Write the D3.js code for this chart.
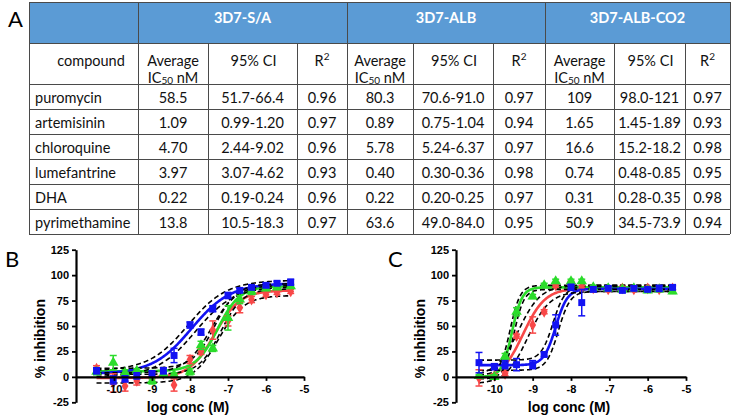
<!DOCTYPE html>
<html><head><meta charset="utf-8">
<script src="https://cdn.jsdelivr.net/npm/d3@7"></script>
<style>body{margin:0;background:#fff}svg{display:block}</style>
</head><body><svg id="c" width="733" height="416"></svg>
<script>
// ---------------- Table data ----------------
const strains = ["3D7-S/A", "3D7-ALB", "3D7-ALB-CO2"];
const compounds = ["puromycin", "artemisinin", "chloroquine", "lumefantrine", "DHA", "pyrimethamine"];
const ic50_SA  = ["58.5", "1.09", "4.70", "3.97", "0.22", "13.8"];
const ci_SA    = ["51.7-66.4", "0.99-1.20", "2.44-9.02", "3.07-4.62", "0.19-0.24", "10.5-18.3"];
const r2_SA    = ["0.96", "0.97", "0.96", "0.93", "0.96", "0.97"];
const ic50_ALB = ["80.3", "0.89", "5.78", "0.40", "0.22", "63.6"];
const ci_ALB   = ["70.6-91.0", "0.75-1.04", "5.24-6.37", "0.30-0.36", "0.20-0.25", "49.0-84.0"];
const r2_ALB   = ["0.97", "0.94", "0.97", "0.98", "0.97", "0.95"];
const ic50_CO2 = ["109", "1.65", "16.6", "0.74", "0.31", "50.9"];
const ci_CO2   = ["98.0-121", "1.45-1.89", "15.2-18.2", "0.48-0.85", "0.28-0.35", "34.5-73.9"];
const r2_CO2   = ["0.97", "0.93", "0.98", "0.95", "0.98", "0.94"];

// ---------------- Plot data (log conc M, % inhibition, error) ----------------
const xTicks = [-10, -9, -8, -7, -6, -5];
const yTicks = [-25, 0, 25, 50, 75, 100, 125];

const B_conc = [-10.46, -10.02, -9.71, -9.40, -9.0, -8.7, -8.42, -8.0, -7.71, -7.40, -7.0, -6.69, -6.38, -6.0, -5.71, -5.35];
const B_blue  = [6, -3, -2, 1, 3, 6, 21, 51, 44, 67, 80, 85, 88, 90, 92, 93];
const B_blueE = [3, 4, 3, 3, 3, 3, 7, 3, 3, 3, 3, 2, 2, 2, 2, 3];
const B_green  = [5, 14, 4, 6, -4, 3, 2, 5, 31, 28, 58, 76, 84, 87, 88, 89];
const B_greenE = [3, 7, 3, 2, 3, 2, 2, 3, 4, 3, 12, 4, 3, 2, 2, 2];
const B_red  = [8, -6, -9, -4, 1, 3, -8, 17, 25, 46, 55, 68, 76, 81, 83, 84];
const B_redE = [3, 9, 5, 4, 3, 3, 6, 4, 3, 9, 5, 5, 3, 2, 2, 2];

const C_conc = [-10.4, -10.0, -9.72, -9.42, -9.0, -8.7, -8.4, -8.0, -7.72, -7.42, -7.03, -6.66, -6.36, -6.0, -5.7, -5.35];
const C_blue  = [14, 10, 12, 12, 12, 22, 51, 88, 73, 86, 87, 85, 87, 86, 87, 88];
const C_blueE = [10, 3, 4, 6, 4, 2, 10, 3, 13, 2, 2, 2, 2, 2, 3, 2];
const C_green  = [1, 0, 20, 64, 79, 90, 94, 94, 94, 88, 87, 86, 87, 85, 86, 84];
const C_greenE = [1, 2, 3, 4, 2, 2, 2, 2, 2, 2, 2, 2, 2, 2, 2, 2];
const C_red  = [-1, 1, 3, 40, 51, 64, 90, 92, 88, 87, 86, 87, 86, 87, 86, 87];
const C_redE = [8, 2, 2, 2, 8, 2, 2, 2, 2, 2, 2, 2, 2, 2, 2, 2];

// fitted 4PL curves: [bottom, top, logIC50, hill]
const B_blueFit  = [3, 92, -7.96, 0.85];
const B_greenFit = [5.5, 89, -7.27, 1.5];
const B_redFit   = [-1, 85, -7.35, 1.3];
const C_blueFit  = [11.5, 86.5, -8.40, 2.8];
const C_greenFit = [0, 88, -9.54, 3.3];
const C_redFit   = [-3, 87, -9.25, 1.5];
// 95% confidence band half-widths: [dBottom, dTop, dLogIC50]
const B_blueBand  = [3, 3, 0.10];
const B_greenBand = [3, 2.5, 0.08];
const B_redBand   = [5, 5, 0.10];
const C_blueBand  = [5, 2.5, 0.07];
const C_greenBand = [2, 2, 0.05];
const C_redBand   = [4, 3, 0.12];

const colors = {blue: "#1212f2", green: "#2bdc2b", red: "#f84848"};

const svg = d3.select("#c");

// ---------------- Table ----------------
const colX = [29, 138, 208, 297, 347, 413, 493, 545, 614, 685, 730];
const rowY = [2, 43, 84, 109, 134, 159, 184, 209, 234];
const tfont = "Lato, 'Open Sans', sans-serif";
const tsize = 14.5;
const lineCol = "#4a4a4a";

svg.append("text").attr("x", 8).attr("y", 18).attr("dominant-baseline", "central")
  .attr("font-family", tfont).attr("font-size", 22).text("A");

svg.append("rect").attr("x", colX[0]).attr("y", rowY[0]).attr("width", colX[10] - colX[0])
  .attr("height", rowY[1] - rowY[0]).attr("fill", "#5b9bd5");

const groups = [[colX[1], colX[4]], [colX[4], colX[7]], [colX[7], colX[10]]];
svg.selectAll("text.strain").data(strains).enter().append("text")
  .attr("class", "strain")
  .attr("x", (d, i) => (groups[i][0] + groups[i][1]) / 2)
  .attr("y", 17).attr("dominant-baseline", "central").attr("text-anchor", "middle")
  .attr("font-family", tfont).attr("font-weight", "bold").attr("font-size", tsize)
  .attr("fill", "#fff").text(d => d);

function cell(x, y, txt, anchor) {
  return svg.append("text").attr("x", x).attr("y", y).attr("dominant-baseline", "central")
    .attr("text-anchor", anchor || "middle").attr("font-family", tfont).attr("font-size", tsize)
    .attr("fill", "#111").text(txt);
}
cell(91, 60, "compound");
for (let g = 0; g < 3; g++) {
  const c0 = colX[1 + g * 3], c1 = colX[2 + g * 3], c2 = colX[3 + g * 3], c3 = colX[4 + g * 3];
  cell((c0 + c1) / 2, 60, "Average");
  const ic = cell((c0 + c1) / 2, 77, "IC");
  ic.append("tspan").attr("font-size", 10).attr("dy", 3).text("50");
  ic.append("tspan").attr("dy", -3).text(" nM");
  cell((c1 + c2) / 2 + 1, 60, "95% CI");
  const r = cell((c2 + c3) / 2, 60, "R");
  r.append("tspan").attr("font-size", 10).attr("dy", -4).text("2");
}
const tableCols = [ic50_SA, ci_SA, r2_SA, ic50_ALB, ci_ALB, r2_ALB, ic50_CO2, ci_CO2, r2_CO2];
compounds.forEach((c, i) => {
  const yc = (rowY[2 + i] + rowY[3 + i]) / 2 + 0.5;
  cell(35, yc, c, "start");
  tableCols.forEach((col, j) => {
    cell((colX[1 + j] + colX[2 + j]) / 2, yc, col[i]);
  });
});
rowY.forEach(y => svg.append("line").attr("x1", colX[0]).attr("x2", colX[10]).attr("y1", y).attr("y2", y)
  .attr("stroke", lineCol).attr("stroke-width", 1).attr("shape-rendering", "crispEdges"));
colX.forEach((x, i) => {
  const full = [0, 1, 4, 7, 10].includes(i);
  svg.append("line").attr("x1", x).attr("x2", x).attr("y1", full ? rowY[0] : rowY[1]).attr("y2", rowY[8])
    .attr("stroke", lineCol).attr("stroke-width", 1).attr("shape-rendering", "crispEdges");
});

// ---------------- Plots ----------------
const afont = "'Liberation Sans', Arial, sans-serif";
const y = d3.scaleLinear().domain([-25, 125]).range([402.3, 249.7]);

function fourPL(p, x) { return p[0] + (p[1] - p[0]) / (1 + Math.pow(10, p[3] * (p[2] - x))); }

function panel(opt) {
  const x = d3.scaleLinear().domain([-11, -5]).range([opt.x0, opt.x1]);
  const g = svg.append("g");
  svg.append("text").attr("x", opt.labelX).attr("y", 258).attr("dominant-baseline", "central")
    .attr("font-family", tfont).attr("font-size", 22).text(opt.label);

  const xmin = d3.min(opt.conc), xmax = d3.max(opt.conc);
  const xs = d3.range(0, 241).map(i => xmin + (xmax - xmin) * i / 240);
  const line = d3.line().x(d => x(d[0])).y(d => y(d[1]));

  opt.series.forEach(s => {
    g.append("path").attr("d", line(xs.map(v => [v, fourPL(s.fit, v)])))
      .attr("fill", "none").attr("stroke", s.color).attr("stroke-width", 2.6);
  });
  opt.series.forEach(s => {
    const up = [s.fit[0] + s.band[0], s.fit[1] + s.band[1], s.fit[2] - s.band[2], s.fit[3]];
    const lo = [s.fit[0] - s.band[0], s.fit[1] - s.band[1], s.fit[2] + s.band[2], s.fit[3]];
    [up, lo].forEach(p => {
      g.append("path").attr("d", line(xs.map(v => [v, fourPL(p, v)])))
        .attr("fill", "none").attr("stroke", "#000").attr("stroke-width", 1.6)
        .attr("stroke-dasharray", "5,3");
    });
  });
  opt.series.forEach(s => {
    const pts = opt.conc.map((c, i) => ({c, m: s.vals[i], e: s.err[i]}));
    const eb = g.append("g").attr("stroke", s.color).attr("stroke-width", 1.5);
    pts.forEach(p => {
      eb.append("line").attr("x1", x(p.c)).attr("x2", x(p.c)).attr("y1", y(p.m - p.e)).attr("y2", y(p.m + p.e));
      [p.m - p.e, p.m + p.e].forEach(v => eb.append("line").attr("x1", x(p.c) - 3.5).attr("x2", x(p.c) + 3.5)
        .attr("y1", y(v)).attr("y2", y(v)));
    });
    g.selectAll(null).data(pts).enter().append("path")
      .attr("transform", p => `translate(${x(p.c)},${y(p.m)})`)
      .attr("d", d3.symbol().type(s.symbol).size(s.size))
      .attr("fill", s.color);
  });

  const fmt = d => String(d);
  const ya = svg.append("g").attr("transform", `translate(${opt.x0},0)`)
    .call(d3.axisLeft(y).tickValues(yTicks).tickFormat(fmt).tickSize(4).tickSizeOuter(0).tickPadding(3));
  const xa = svg.append("g").attr("transform", `translate(0,${y(0)})`)
    .call(d3.axisBottom(x).tickValues(xTicks).tickFormat(fmt).tickSize(4).tickSizeOuter(0).tickPadding(4));
  [ya, xa].forEach(a => {
    a.select(".domain").attr("stroke", "#000").attr("stroke-width", 2.2);
    a.selectAll(".tick line").attr("stroke", "#000").attr("stroke-width", 1.8);
    a.selectAll(".tick text").attr("font-family", afont).attr("font-weight", "bold")
      .attr("font-size", 11).attr("fill", "#000");
  });
  svg.append("text").attr("transform", `translate(${opt.x0 - 36},${y(37.5)}) rotate(-90)`)
    .attr("text-anchor", "middle").attr("dominant-baseline", "central")
    .attr("font-family", afont).attr("font-weight", "bold").attr("font-size", 14).text("% inhibition");
  svg.append("text").attr("x", (opt.x0 + opt.x1) / 2 - 2).attr("y", 407)
    .attr("text-anchor", "middle").attr("dominant-baseline", "central")
    .attr("font-family", afont).attr("font-weight", "bold").attr("font-size", 14).text("log conc (M)");
}

panel({
  label: "B", labelX: 5, x0: 76, x1: 304, conc: B_conc,
  series: [
    {color: colors.red, vals: B_red, err: B_redE, fit: B_redFit, band: B_redBand, symbol: d3.symbolDiamond, size: 40},
    {color: colors.green, vals: B_green, err: B_greenE, fit: B_greenFit, band: B_greenBand, symbol: d3.symbolTriangle, size: 48},
    {color: colors.blue, vals: B_blue, err: B_blueE, fit: B_blueFit, band: B_blueBand, symbol: d3.symbolSquare, size: 48}
  ]
});
panel({
  label: "C", labelX: 388, x0: 456, x1: 686, conc: C_conc,
  series: [
    {color: colors.red, vals: C_red, err: C_redE, fit: C_redFit, band: C_redBand, symbol: d3.symbolDiamond, size: 40},
    {color: colors.green, vals: C_green, err: C_greenE, fit: C_greenFit, band: C_greenBand, symbol: d3.symbolTriangle, size: 48},
    {color: colors.blue, vals: C_blue, err: C_blueE, fit: C_blueFit, band: C_blueBand, symbol: d3.symbolSquare, size: 48}
  ]
});
</script></body></html>
